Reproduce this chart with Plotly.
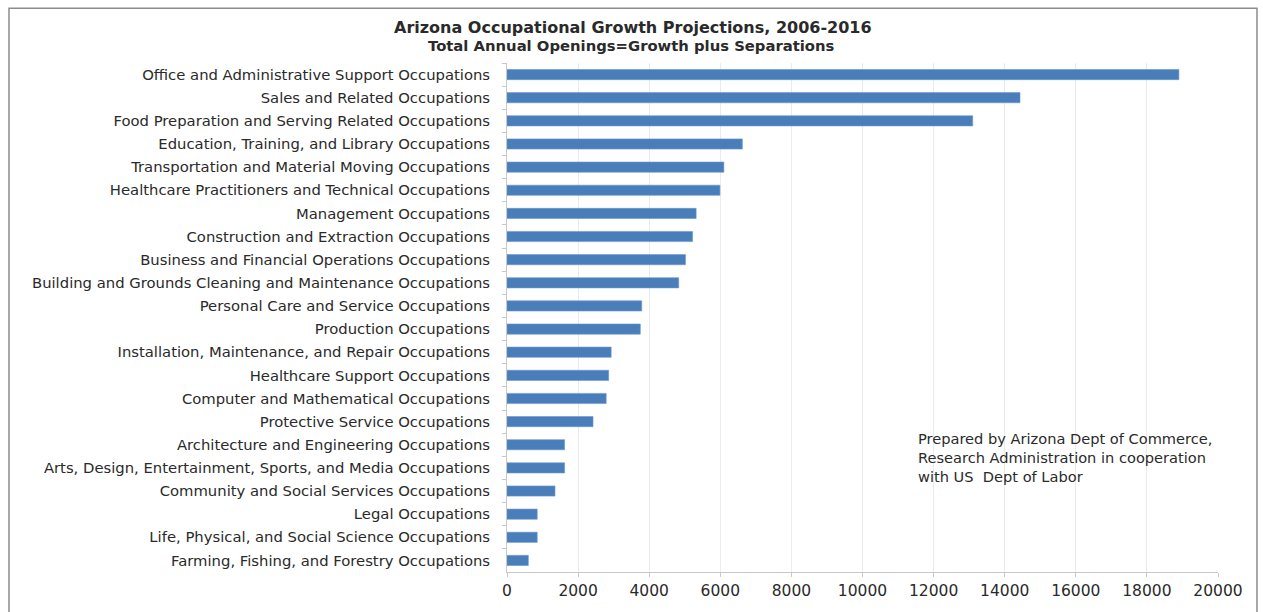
import plotly.graph_objects as go

occupations = [
    "Office and Administrative Support Occupations",
    "Sales and Related Occupations",
    "Food Preparation and Serving Related Occupations",
    "Education, Training, and Library Occupations",
    "Transportation and Material Moving Occupations",
    "Healthcare Practitioners and Technical Occupations",
    "Management Occupations",
    "Construction and Extraction Occupations",
    "Business and Financial Operations Occupations",
    "Building and Grounds Cleaning and Maintenance Occupations",
    "Personal Care and Service Occupations",
    "Production Occupations",
    "Installation, Maintenance, and Repair Occupations",
    "Healthcare Support Occupations",
    "Computer and Mathematical Occupations",
    "Protective Service Occupations",
    "Architecture and Engineering Occupations",
    "Arts, Design, Entertainment, Sports, and Media Occupations",
    "Community and Social Services Occupations",
    "Legal Occupations",
    "Life, Physical, and Social Science Occupations",
    "Farming, Fishing, and Forestry Occupations",
]
annual_openings = [
    18900, 14430, 13100, 6620, 6100, 5990, 5320, 5220, 5020, 4830,
    3790, 3750, 2930, 2860, 2790, 2420, 1620, 1620, 1350, 850, 850, 600,
]
x_ticks = [0, 2000, 4000, 6000, 8000, 10000, 12000, 14000, 16000, 18000, 20000]

title_main = "Arizona Occupational Growth Projections, 2006-2016"
title_sub = "Total Annual Openings=Growth plus Separations"
note_lines = [
    "Prepared by Arizona Dept of Commerce,",
    "Research Administration in cooperation",
    "with US  Dept of Labor",
]

W, H = 1263, 612
L, R, T, B = 507, 45, 63, 38
pw, ph = W - L - R, H - T - B

def px(x):
    return (x - L) / pw

def py(y):
    return (H - B - y) / ph

text_color = "#2a2a2a"
font_family = "DejaVu Sans"

fig = go.Figure(
    go.Bar(
        x=annual_openings,
        y=occupations,
        orientation="h",
        marker=dict(color="#4a7ebb", line=dict(color="#6a96cc", width=0.6)),
    )
)

annotations = [
    dict(text="<b>" + title_main + "</b>", xref="paper", yref="paper",
         x=px(633), y=py(27), xanchor="center", yanchor="middle",
         showarrow=False, font=dict(size=16, color=text_color, family=font_family)),
    dict(text="<b>" + title_sub + "</b>", xref="paper", yref="paper",
         x=px(631), y=py(45), xanchor="center", yanchor="middle",
         showarrow=False, font=dict(size=14.8, color=text_color, family=font_family)),
    dict(text="<br>".join(note_lines), xref="paper", yref="paper",
         x=px(916), y=py(459), xanchor="left", yanchor="middle", align="left",
         showarrow=False, font=dict(size=14.6, color=text_color, family=font_family)),
]

fig.update_layout(
    width=W,
    height=H,
    margin=dict(l=L, r=R, t=T, b=B),
    paper_bgcolor="white",
    plot_bgcolor="white",
    bargap=0.56,
    showlegend=False,
    font=dict(family=font_family, color=text_color, size=13),
    xaxis=dict(
        range=[0, 20000],
        tickvals=x_ticks,
        ticktext=[str(v) for v in x_ticks],
        showgrid=True,
        gridcolor="#ebebeb",
        gridwidth=1,
        showline=True,
        linecolor="#c8c8c8",
        linewidth=1,
        ticks="outside",
        ticklen=4,
        tickcolor="#c8c8c8",
        tickfont=dict(size=15.5, color=text_color, family=font_family),
        zeroline=False,
        fixedrange=True,
    ),
    yaxis=dict(
        autorange="reversed",
        showline=True,
        linecolor="#c8c8c8",
        linewidth=1,
        ticks="outside",
        ticklen=4,
        tickcolor="#c8c8c8",
        tickson="boundaries",
        tickfont=dict(size=14.8, color=text_color, family=font_family),
        ticklabelstandoff=13,
        showgrid=False,
        fixedrange=True,
    ),
    annotations=annotations,
    shapes=[
        dict(type="rect", xref="paper", yref="paper",
             x0=px(9), x1=px(1257), y0=py(640), y1=py(8),
             line=dict(color="#8c8c8c", width=1.5), fillcolor="rgba(0,0,0,0)", layer="below"),
    ],
)

fig.write_html("out.html")
